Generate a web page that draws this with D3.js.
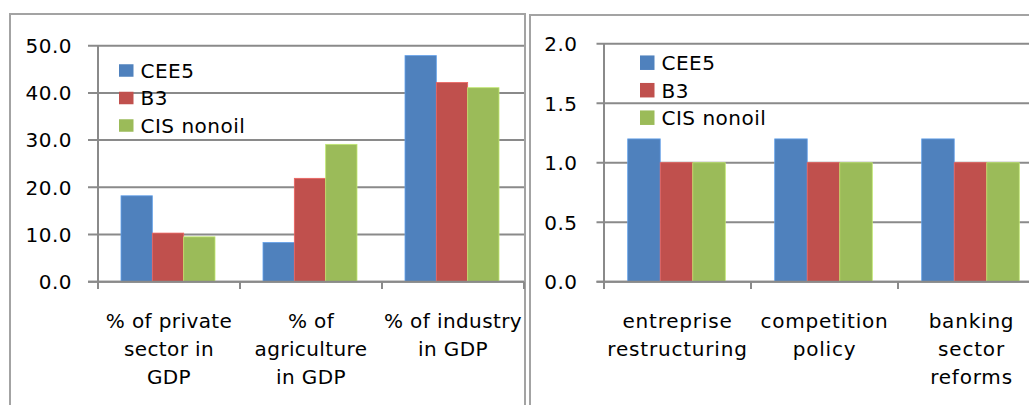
<!DOCTYPE html>
<html><head><meta charset="utf-8">
<script src="https://cdn.jsdelivr.net/npm/d3@7"></script>
<style>body{margin:0;background:#fff}svg{display:block}text{font-family:"DejaVu Sans",sans-serif;fill:#000}</style>
</head><body><svg id="c" width="1029" height="405"></svg>
<script>
const series = ["CEE5", "B3", "CIS nonoil"];
const colors = ["#4F81BD", "#C0504D", "#9BBB59"];
const leftCategories = [["% of private", "sector in", "GDP"], ["% of", "agriculture", "in GDP"], ["% of industry", "in GDP"]];
const leftCEE5 = [18.2, 8.3, 47.9];
const leftB3 = [10.3, 21.9, 42.2];
const leftCIS = [9.5, 29.1, 41.1];
const leftTicks = [0, 10, 20, 30, 40, 50];
const rightCategories = [["entreprise", "restructuring"], ["competition", "policy"], ["banking", "sector", "reforms"]];
const rightCEE5 = [1.2, 1.2, 1.2];
const rightB3 = [1.0, 1.0, 1.0];
const rightCIS = [1.0, 1.0, 1.0];
const rightTicks = [0, 0.5, 1.0, 1.5, 2.0];

const svg = d3.select("#c");
const GRID = "#8a8a8a";

// panel borders
svg.append("rect").attr("x", 10).attr("y", 14).attr("width", 515).attr("height", 420)
  .attr("fill", "none").attr("stroke", "#a3a3a3").attr("stroke-width", 2);
svg.append("rect").attr("x", 530).attr("y", 15).attr("width", 520).attr("height", 420)
  .attr("fill", "none").attr("stroke", "#a3a3a3").attr("stroke-width", 2);

function panel(o) {
  const g = svg.append("g");
  const y = d3.scaleLinear().domain([0, o.max]).range([281.7, o.top]);
  const x = d3.scaleBand().domain(d3.range(o.cats.length)).range([o.x0, o.x1]);
  const xs = d3.scaleBand().domain(d3.range(series.length))
    .range([o.pad, o.pad + o.group]);
  // gridlines + y ticks
  g.selectAll(".grid").data(o.ticks).join("line")
    .attr("x1", o.x0 - o.tickLen).attr("x2", o.x1)
    .attr("y1", d => y(d)).attr("y2", d => y(d))
    .attr("stroke", GRID).attr("stroke-width", 2);
  g.selectAll(".yl").data(o.ticks).join("text")
    .attr("x", o.labelX).attr("y", d => y(d) + 7.3)
    .attr("text-anchor", "end").attr("font-size", 20).attr("letter-spacing", 0.5)
    .text(d => d3.format(".1f")(d));
  // bars
  const vals = o.vals;
  vals.forEach((arr, si) => {
    g.selectAll(".b" + si).data(arr).join("rect")
      .attr("x", (d, i) => x(i) + xs(si))
      .attr("width", xs.bandwidth())
      .attr("y", d => y(d))
      .attr("height", d => y(0) - y(d))
      .attr("fill", colors[si])
      .attr("stroke", d3.color(colors[si]).brighter(0.6)).attr("stroke-width", 0.8);
  });
  // axes
  g.append("line").attr("x1", o.x0).attr("x2", o.x0).attr("y1", y(o.max)).attr("y2", 289)
    .attr("stroke", GRID).attr("stroke-width", 2);
  g.append("line").attr("x1", o.x0 - o.tickLen).attr("x2", o.x1).attr("y1", y(0)).attr("y2", y(0))
    .attr("stroke", GRID).attr("stroke-width", 2);
  g.selectAll(".xt").data(d3.range(o.cats.length + 1)).join("line")
    .attr("x1", i => o.x0 + i * x.bandwidth()).attr("x2", i => o.x0 + i * x.bandwidth())
    .attr("y1", y(0)).attr("y2", 289).attr("stroke", GRID).attr("stroke-width", 2);
  // category labels
  o.cats.forEach((lines, i) => {
    const t = g.append("text").attr("text-anchor", "middle").attr("font-size", 20)
      .attr("letter-spacing", o.ls);
    lines.forEach((ln, j) => {
      t.append("tspan").attr("x", x(i) + x.bandwidth() / 2).attr("y", 328 + j * 28.2).text(ln);
    });
  });
  // legend
  series.forEach((s, si) => {
    const cy = o.legY + si * 27.5;
    g.append("rect").attr("x", o.legX).attr("y", cy - o.sqH / 2).attr("width", 14.5).attr("height", o.sqH)
      .attr("fill", colors[si]);
    g.append("text").attr("x", o.legX + 21.5).attr("y", cy + 7.3).attr("font-size", 20)
      .attr("letter-spacing", 0.5).text(s);
  });
}

panel({ cats: leftCategories, vals: [leftCEE5, leftB3, leftCIS], ticks: leftTicks, max: 50, top: 45.7,
  x0: 98, x1: 524, pad: 23, group: 94, tickLen: 10, labelX: 72, ls: 0.4,
  legX: 119, legY: 70.5, sqH: 12.5 });
panel({ cats: rightCategories, vals: [rightCEE5, rightB3, rightCIS], ticks: rightTicks, max: 2, top: 43.7,
  x0: 604, x1: 1045, pad: 23.7, group: 97.6, tickLen: 7.5, labelX: 577.5, ls: 0.8,
  legX: 640, legY: 62.7, sqH: 14.5 });
</script></body></html>
